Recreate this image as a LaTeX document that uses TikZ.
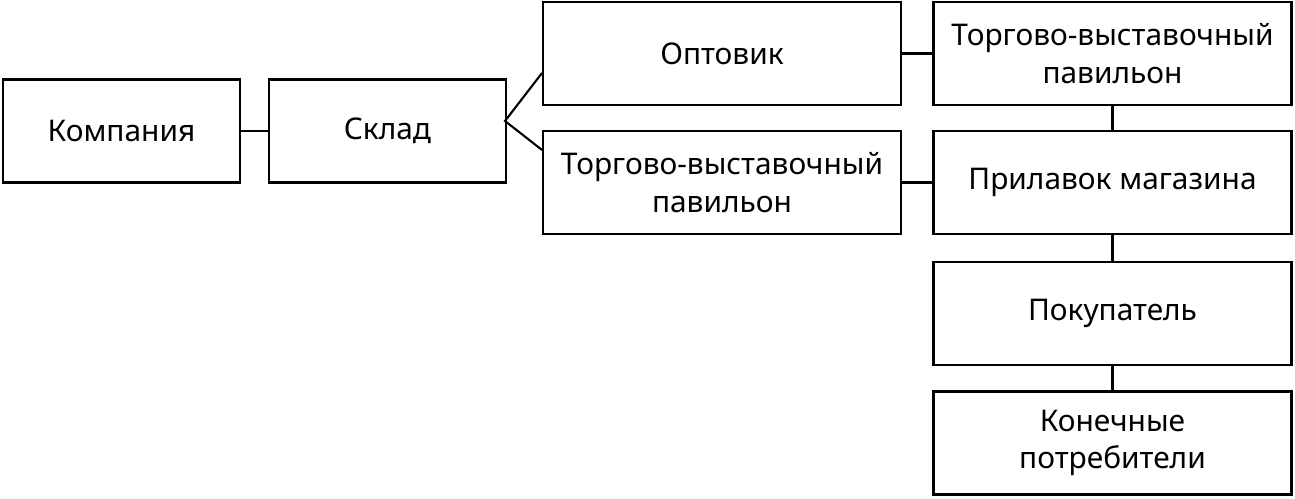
\documentclass[tikz,border=0pt]{standalone}
\usepackage{fontspec}
\setmainfont{Noto Sans}
\usetikzlibrary{positioning}
\tikzset{
  blok/.style={draw, line width=1.2pt, align=center, inner sep=0pt,
    font=\fontsize{17}{21.5}\selectfont, minimum height=2.06cm},
  narrow/.style={blok, minimum width=4.74cm},
  wide/.style={blok, minimum width=7.16cm},
  link/.style={line width=1.2pt}
}
\begin{document}
\begin{tikzpicture}[x=0.02cm,y=-0.02cm]
\useasboundingbox (0,0) rectangle (1295,499);

\node[narrow] (komp) at (121.5,131) {Компания};
\node[narrow] (sklad) at (387.5,131) {Склад};
\node[wide] (opt) at (722,53.5) {Оптовик};
\node[wide] (pav) at (722,182.5) {Торгово-выставочный\\павильон};
\node[wide] (pavr) at (1112.5,53.5) {Торгово-выставочный\\павильон};
\node[wide] (pril) at (1112.5,182.5) {Прилавок магазина};
\node[wide] (pok) at (1112.5,313.5) {Покупатель};
\node[wide] (kon) at (1112.5,443) {Конечные\\потребители};

\coordinate (fork) at (505,121);
\draw[link] (komp) -- (sklad);
\draw[link] (opt.south west) ++(0,-33) coordinate (o1);
\draw[link] (pav.north west) ++(0,20) coordinate (p1);
\draw[link] (o1) -- (fork) -- (p1);
\draw[link] (opt) -- (pavr);
\draw[link] (pav) -- (pril);
\draw[link] (pavr) -- (pril);
\draw[link] (pril) -- (pok);
\draw[link] (pok) -- (kon);
\end{tikzpicture}
\end{document}
